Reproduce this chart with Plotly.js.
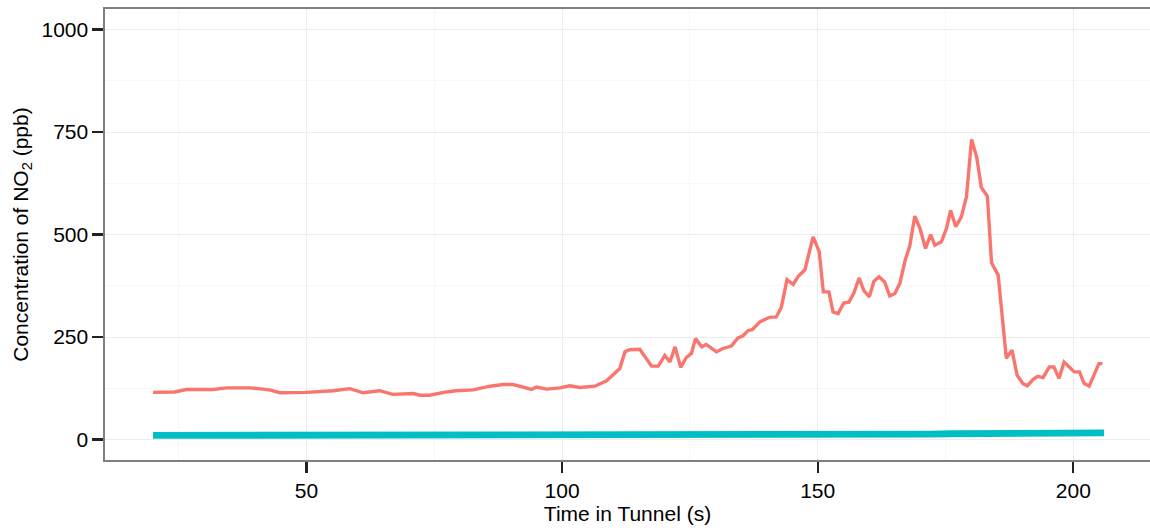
<!DOCTYPE html>
<html>
<head>
<meta charset="utf-8">
<script src="https://cdn.plot.ly/plotly-3.0.1.min.js"></script>
<style>html,body{margin:0;padding:0;background:#fff;}#chart{width:1150px;height:528px;}</style>
</head>
<body>
<div id="chart"></div>
<script>
// Red series (higher concentration)
const timeRed = [20,24.2,26.5,31.7,34.4,38.9,41.5,42.8,44.8,50,55.2,58.5,61.1,64.3,66.9,70.9,72.2,74.1,77.4,79.3,82.6,85.9,88.5,90.4,92.4,94.0,95.0,97.0,99.6,101.5,103.5,106.4,108.7,110.0,111.3,112.3,113.2,115.2,116.5,117.5,118.8,120.1,121.1,122.1,123.2,124.3,125.3,126.1,127.3,128.2,130.2,131.5,133.1,134.4,135.4,136.4,137.2,138.7,140.6,141.9,142.9,144.0,145.2,146.2,147.5,149.1,150.3,151.1,152.2,153.0,154.0,155.1,156.1,157.1,158.1,159.0,160.1,161.0,162.0,163.1,164.1,165.1,166.1,167.1,168.0,169.0,170.0,171.1,172.1,172.9,174.2,175.2,176.0,177.0,178.1,179.1,180.1,181.1,182.0,183.2,184.0,185.3,186.9,188.0,189.0,190.1,191.0,192.1,193.0,194.1,195.3,196.2,197.2,198.2,199.2,200.2,201.2,202.1,203.1,204.0,205.0,205.7];
const no2Red = [115,116,122,122,126,126,123,121,114,115,119,124,114,119,110,112,108,108,116,119,121,130,134,134,128,122,128,123,126,131,127,130,143,157,173,214,219,220,198,179,179,205,189,226,176,200,210,246,226,232,214,222,228,248,253,266,268,287,298,299,323,390,378,398,414,494,458,360,360,311,307,333,335,358,394,364,348,386,397,384,350,356,382,437,471,545,515,466,500,474,482,515,559,519,543,592,732,689,615,593,431,401,198,218,157,137,131,146,154,151,177,177,149,189,177,165,165,137,130,154,185,185];

// Teal series (low concentration)
const timeTeal = [20,24,28,32,36,38,40,41,44,48,52,56,58,60,64,68,70,72,76,80,84,88,92,96,98,100,104,108,112,116,120,124,128,132,136,140,144,146,148,152,156,160,164,168,172,176,180,184,188,192,196,200,202,204,206];
const no2Teal = [10,10,10,10,10,9,10,9,10,10,10,10,9,10,10,10,9,10,10,10,10,10,10,10,9,10,10,10,10,10,11,11,11,11,12,12,12,13,12,12,13,13,13,13,13,14,14,14,15,15,15,16,15,17,16];

// Axis ticks
const xTicks = [50, 100, 150, 200];
const xMinor = [25, 75, 125, 175];
const yTicks = [0, 250, 500, 750, 1000];
const yMinor = [125, 375, 625, 875];

const FONT = 'Liberation Sans, Arial, sans-serif';
const FS = 21;

const traces = [
  {x: timeRed, y: no2Red, type: 'scatter', mode: 'lines',
   line: {color: '#F8766D', width: 3.4}, showlegend: false, hoverinfo: 'skip'},
  {x: timeTeal, y: no2Teal, type: 'scatter', mode: 'lines',
   line: {color: '#00BFC4', width: 6.8}, showlegend: false, hoverinfo: 'skip'}
];

const layout = {
  width: 1150, height: 528,
  margin: {l: 105.3, r: 0, t: 8.8, b: 68.2},
  paper_bgcolor: '#ffffff', plot_bgcolor: '#ffffff',
  font: {family: FONT, size: FS, color: '#000'},
  xaxis: {
    range: [10.6, 215], tickmode: 'array', tickvals: xTicks, ticktext: xTicks.map(String),
    showgrid: true, gridcolor: '#ececec', gridwidth: 1,
    minor: {tickmode: 'array', tickvals: xMinor, showgrid: true, gridcolor: '#f7f7f7', gridwidth: 1, ticks: ''},
    zeroline: false,
    showline: true, linecolor: '#7f7f7f', linewidth: 1.6, mirror: true,
    ticks: 'outside', ticklen: 11, tickwidth: 2.2, tickcolor: '#222',
    tickfont: {family: FONT, size: FS, color: '#000'},
    title: {text: 'Time in Tunnel (s)', font: {family: FONT, size: FS, color: '#000'}, standoff: 4},
    automargin: false, fixedrange: true
  },
  yaxis: {
    range: [-50, 1050], tickmode: 'array', tickvals: yTicks, ticktext: yTicks.map(String),
    showgrid: true, gridcolor: '#ececec', gridwidth: 1,
    minor: {tickmode: 'array', tickvals: yMinor, showgrid: true, gridcolor: '#f7f7f7', gridwidth: 1, ticks: ''},
    zeroline: false,
    showline: true, linecolor: '#7f7f7f', linewidth: 1.6, mirror: false,
    ticks: 'outside', ticklen: 11, tickwidth: 2.2, tickcolor: '#222',
    tickfont: {family: FONT, size: FS, color: '#000'},
    title: {text: 'Concentration of NO<sub>2</sub> (ppb)', font: {family: FONT, size: FS, color: '#000'}, standoff: 7},
    automargin: false, fixedrange: true
  }
};

Plotly.newPlot('chart', traces, layout, {displayModeBar: false, staticPlot: true});
</script>
</body>
</html>
